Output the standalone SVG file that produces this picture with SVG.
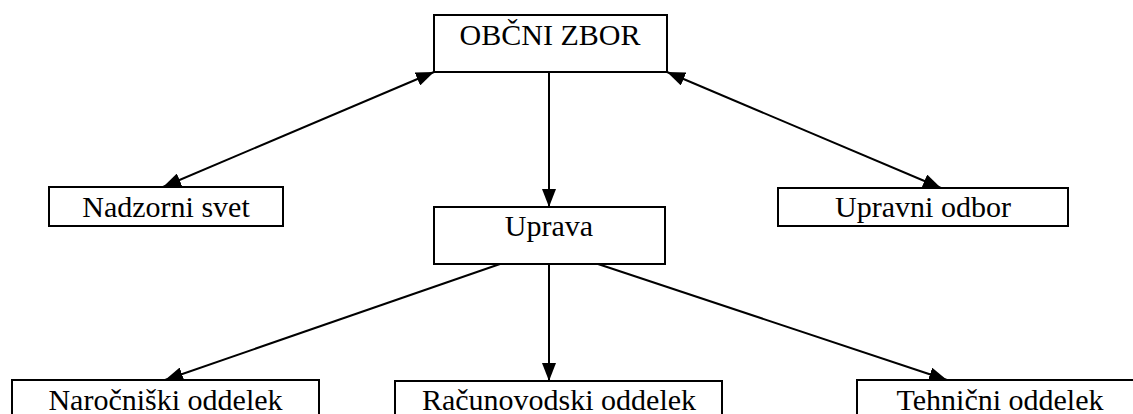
<svg xmlns="http://www.w3.org/2000/svg" width="1133" height="414" viewBox="0 0 1133 414">
<style>
.box{fill:#fff;stroke:#000;stroke-width:2}
.lbl{font-family:'Liberation Serif',serif;font-size:30px;fill:#000;text-anchor:middle}
.con{stroke:#000;stroke-width:2;fill:none}
</style>
<defs>
<marker id="ah" markerUnits="userSpaceOnUse" markerWidth="18" markerHeight="14" refX="18" refY="7" orient="auto-start-reverse" viewBox="0 0 18 14">
<path d="M0,0 L18,7 L0,14 z" fill="#000"/>
</marker>
</defs>
<rect width="1133" height="414" fill="#fff"/>
<g id="connectors">
<line class="con" x1="434" y1="72" x2="163" y2="187" marker-start="url(#ah)" marker-end="url(#ah)"/>
<line class="con" x1="667" y1="72" x2="941" y2="188" marker-start="url(#ah)" marker-end="url(#ah)"/>
<line class="con" x1="549" y1="72" x2="549" y2="207" marker-end="url(#ah)"/>
<line class="con" x1="500" y1="264" x2="165" y2="380" marker-end="url(#ah)"/>
<line class="con" x1="549" y1="264" x2="549" y2="381" marker-end="url(#ah)"/>
<line class="con" x1="598" y1="264" x2="947" y2="380" marker-end="url(#ah)"/>
</g>
<g id="obcni-zbor">
<rect class="box" x="434" y="15" width="233" height="57"/>
<text class="lbl" x="550" y="45">OBČNI ZBOR</text>
</g>
<g id="nadzorni-svet">
<rect class="box" x="49" y="187" width="234" height="39"/>
<text class="lbl" x="166" y="217">Nadzorni svet</text>
</g>
<g id="uprava">
<rect class="box" x="434" y="207" width="231" height="57"/>
<text class="lbl" x="549" y="236">Uprava</text>
</g>
<g id="upravni-odbor">
<rect class="box" x="778" y="188" width="290" height="38"/>
<text class="lbl" x="923" y="217">Upravni odbor</text>
</g>
<g id="narocniski-oddelek">
<rect class="box" x="12" y="380" width="307" height="50"/>
<text class="lbl" x="165.5" y="410">Naročniški oddelek</text>
</g>
<g id="racunovodski-oddelek">
<rect class="box" x="395" y="381" width="327" height="50"/>
<text class="lbl" x="559" y="410">Računovodski oddelek</text>
</g>
<g id="tehnicni-oddelek">
<rect class="box" x="857" y="380" width="286" height="50"/>
<text class="lbl" x="1000" y="410">Tehnični oddelek</text>
</g>
</svg>
